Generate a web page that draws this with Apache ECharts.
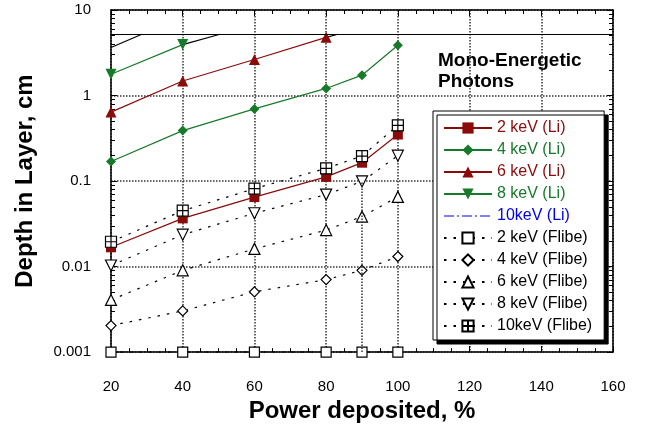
<!DOCTYPE html>
<html>
<head>
<meta charset="utf-8">
<script src="https://cdn.jsdelivr.net/npm/echarts@6/dist/echarts.min.js"></script>
<style>
  html, body { margin: 0; padding: 0; background: #fff; }
  #chart { width: 646px; height: 428px; }
</style>
</head>
<body>
<div id="chart"></div>
<script>
// power deposited (%) for each point
var power = [20, 40, 60, 80, 90, 100];
// depth in layer (cm), Li
var li2 = [0.0168, 0.0366, 0.065, 0.112, 0.164, 0.35];
var li4 = [0.169, 0.389, 0.698, 1.21, 1.73, 3.87];
var li6 = [0.64, 1.48, 2.64, 4.79];
var li8 = [1.77, 3.94];
// depth in layer (cm), Flibe
var fl2 = [0.001, 0.001, 0.001, 0.001, 0.001, 0.001];
var fl4 = [0.00204, 0.00303, 0.00507, 0.00704, 0.00904, 0.0131];
var fl6 = [0.00407, 0.00904, 0.0161, 0.0267, 0.0384, 0.0653];
var fl8 = [0.0103, 0.0236, 0.042, 0.0695, 0.099, 0.198];
var fl10 = [0.0195, 0.045, 0.0815, 0.141, 0.196, 0.448];
// cut-off level and the runs that end on it
var capLevel = 5.2;
var li10Run = [[20, 3.65], [28.6, capLevel]];
var li8Run = [[40, 3.94], [50.4, capLevel]];
var li6Run = [[80, 4.79], [83.3, capLevel]];

var red = '#8B0A0A';
var green = '#177A2A';
var blue = '#0000EE';
var boxPlus = 'path://M0,0H10V10H0Z M5,0V10 M0,5H10';
var downTri = 'path://M0,0L10,0L5,9Z';

function pairs(ys) {
  return ys.map(function (y, i) { return [power[i], y]; });
}

function liSeries(name, ys, color, symbol, size) {
  return {
    name: name, type: 'line', data: pairs(ys),
    symbol: symbol, symbolSize: size,
    lineStyle: { color: color, width: 1.2 },
    itemStyle: { color: color },
    z: 3
  };
}

function flSeries(name, ys, symbol, size) {
  return {
    name: name, type: 'line', data: pairs(ys),
    symbol: symbol, symbolSize: size,
    lineStyle: { color: '#000', width: 1.2, type: [2.5, 7] },
    itemStyle: { color: '#fff', borderColor: '#000', borderWidth: 1.2 },
    z: 4
  };
}

function runSeries(name, data, color) {
  return {
    name: name, type: 'line', data: data, symbol: 'none',
    lineStyle: { color: color, width: 1.2 }, z: 2
  };
}

var gridLine = { show: true, lineStyle: { color: '#333', type: [1.5, 1.5], width: 1.5 } };
var frameLine = { show: true, onZero: false, lineStyle: { color: '#000', width: 1.5 } };
var tickIn = { show: true, inside: true, length: 6, lineStyle: { color: '#000' } };
var font = 'Liberation Sans, Arial, sans-serif';

var series = [
  runSeries('10keV (Li)', li10Run, '#000'),
  runSeries('8 keV cut', li8Run, '#000'),
  runSeries('6 keV cut', li6Run, '#000'),
  liSeries('2 keV (Li)', li2, red, 'rect', 10),
  liSeries('4 keV (Li)', li4, green, 'diamond', 10),
  liSeries('6 keV (Li)', li6, red, 'triangle', 11),
  liSeries('8 keV (Li)', li8, green, downTri, 11),
  flSeries('2 keV (Flibe)', fl2, 'rect', 10),
  flSeries('4 keV (Flibe)', fl4, 'diamond', 10),
  flSeries('6 keV (Flibe)', fl6, 'triangle', 11),
  flSeries('8 keV (Flibe)', fl8, downTri, 11),
  flSeries('10keV (Flibe)', fl10, boxPlus, 11)
];

// horizontal cut-off line
series[0].markLine = {
  silent: true, symbol: 'none', label: { show: false },
  lineStyle: { color: '#000', type: 'solid', width: 1.2 },
  data: [{ yAxis: capLevel }]
};
// drop line below the 8 keV (Flibe) point at 90 %
series[10].markLine = {
  silent: true, symbol: 'none', label: { show: false },
  lineStyle: { color: '#333', type: [1.5, 1.5], width: 1.5 },
  data: [[{ coord: [90, fl2[4]] }, { coord: [90, fl8[4]] }]]
};

var legendNames = ['2 keV (Li)', '4 keV (Li)', '6 keV (Li)', '8 keV (Li)', '10keV (Li)',
  '2 keV (Flibe)', '4 keV (Flibe)', '6 keV (Flibe)', '8 keV (Flibe)', '10keV (Flibe)'];
var legendColors = [red, green, red, green, blue, '#000', '#000', '#000', '#000', '#000'];

var option = {
  animation: false,
  backgroundColor: '#fff',
  textStyle: { fontFamily: font },
  grid: { left: 111, right: 33, top: 10, bottom: 72 },
  legend: {
    orient: 'vertical',
    left: 433, top: 111,
    itemWidth: 48, itemHeight: 14, itemGap: 6,
    padding: [9, 12, 6, 10],
    backgroundColor: '#fff',
    borderColor: '#000', borderWidth: 1,
    shadowColor: '#000', shadowBlur: 0, shadowOffsetX: 4, shadowOffsetY: 4,
    textStyle: { fontSize: 16, fontFamily: font },
    data: legendNames.map(function (n, i) {
      var item = { name: n, textStyle: { color: legendColors[i] } };
      if (n === '10keV (Li)') {
        item.lineStyle = { color: blue, type: [10, 3, 2, 3], width: 1.2 };
        item.itemStyle = { opacity: 0 };
      }
      return item;
    })
  },
  graphic: [{
    type: 'text', left: 438, top: 50,
    style: { text: 'Mono-Energetic\nPhotons', font: 'bold 19px ' + font, fill: '#000', lineHeight: 21 }
  }],
  xAxis: [{
    type: 'value', min: 20, max: 160, interval: 20, position: 'bottom',
    name: 'Power deposited, %', nameLocation: 'middle', nameGap: 43,
    nameTextStyle: { fontSize: 24, fontWeight: 'bold', color: '#000', fontFamily: font },
    axisLine: frameLine, axisTick: tickIn,
    minorTick: { show: true, splitNumber: 4, length: 4, lineStyle: { color: '#000' } },
    axisLabel: { fontSize: 15, color: '#000', margin: 27 },
    splitLine: gridLine
  }, {
    type: 'value', min: 20, max: 160, interval: 20, position: 'top',
    axisLine: frameLine, axisTick: tickIn,
    minorTick: { show: true, splitNumber: 4, length: 4, lineStyle: { color: '#000' } },
    axisLabel: { show: false }, splitLine: { show: false }
  }],
  yAxis: [{
    type: 'log', logBase: 10, min: 0.001, max: 10, position: 'left',
    name: 'Depth in Layer, cm', nameLocation: 'middle', nameGap: 74,
    nameTextStyle: { fontSize: 24, fontWeight: 'bold', color: '#000', fontFamily: font },
    axisLine: frameLine, axisTick: tickIn,
    minorTick: { show: true, splitNumber: 9, length: 4, lineStyle: { color: '#000' } },
    axisLabel: { fontSize: 15, color: '#000', margin: 20 },
    splitLine: gridLine
  }, {
    type: 'log', logBase: 10, min: 0.001, max: 10, position: 'right',
    axisLine: frameLine, axisTick: tickIn,
    minorTick: { show: true, splitNumber: 9, length: 4, lineStyle: { color: '#000' } },
    axisLabel: { show: false }, splitLine: { show: false }
  }],
  series: series
};

var myChart = echarts.init(document.getElementById('chart'));
myChart.setOption(option);
window.addEventListener('resize', function () {
  myChart.resize();
});
</script>
</body>
</html>
